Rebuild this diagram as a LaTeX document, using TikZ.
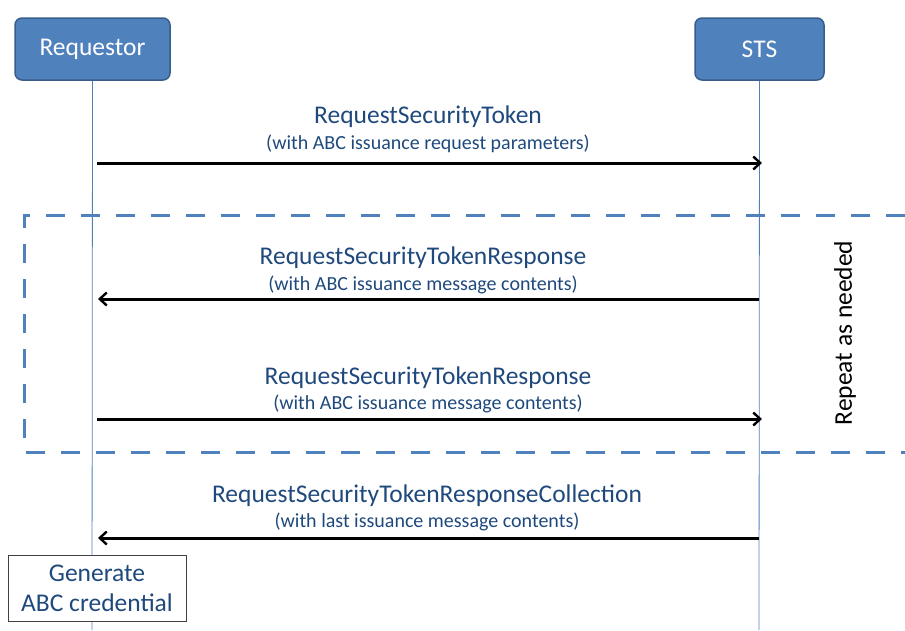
\documentclass[tikz,border=0pt]{standalone}
\usepackage{fontspec}
\setmainfont{Carlito}
\usetikzlibrary{arrows.meta}
\definecolor{boxblue}{HTML}{4F81BD}
\definecolor{boxedge}{HTML}{385D8A}
\definecolor{labelblue}{HTML}{1F497D}
\tikzset{
  actor/.style={shape=rectangle,rounded corners=7pt,fill=boxblue,draw=boxedge,line width=1.5pt,
    text=white,minimum height=62pt,font=\fontsize{25.5}{30}\selectfont},
  lifeline/.style={draw=boxblue,line width=0.8pt},
  msg/.style={draw=black,line width=3pt,-{Straight Barb[length=7pt,width=13pt,line width=2.4pt]}},
  msgname/.style={text=labelblue,font=\fontsize{25.5}{30}\selectfont,inner sep=0pt},
  msgnote/.style={text=labelblue,font=\fontsize{20}{24}\selectfont,inner sep=0pt},
  repeatbox/.style={draw=boxblue,line width=3pt,dash pattern=on 19pt off 16pt},
  taskbox/.style={shape=rectangle,fill=white,draw=black!75,line width=0.8pt,align=center,
    text=labelblue,minimum width=178pt,minimum height=66pt,font=\fontsize{25.5}{30}\selectfont,inner sep=0pt}
}
\begin{document}
\begin{tikzpicture}[x=1pt,y=-1pt]
\useasboundingbox (0,0) rectangle (905,630);

% participants
\node[actor,minimum width=155pt] (req) at (92.5,49) {Requestor};
\node[actor,minimum width=129pt] (sts) at (759.5,49) {STS};
\coordinate (reqend) at (92,630);
\coordinate (stsend) at (759,630);
\path[lifeline] (req.south) -- (reqend);
\path[lifeline] (sts.south) -- (stsend);

% repeat frame
\coordinate (f1) at (905,215);
\coordinate (f2) at (24,215);
\coordinate (f3) at (24,452);
\coordinate (f4) at (905,452);
\path[repeatbox] (f1) -- (f2) -- (f3) -- (f4);
\node[font=\fontsize{25.5}{30}\selectfont,rotate=90] (rep) at (845,333) {Repeat as needed};

% message end points
\coordinate (r1) at (97,163);  \coordinate (s1) at (762,163);
\coordinate (r2) at (98,299);  \coordinate (s2) at (759,299);
\coordinate (r3) at (97,419);  \coordinate (s3) at (762,419);
\coordinate (r4) at (98,538);  \coordinate (s4) at (759,538);

\path[msg] (r1) -- (s1);
\path[msg] (s2) -- (r2);
\path[msg] (r3) -- (s3);
\path[msg] (s4) -- (r4);

% message labels
\node[msgname] (m1) at (428,117) {RequestSecurityToken};
\node[msgnote] (n1) at (428,144) {(with ABC issuance request parameters)};
\node[msgname] (m2) at (423,258) {RequestSecurityTokenResponse};
\node[msgnote] (n2) at (423,285) {(with ABC issuance message contents)};
\node[msgname] (m3) at (428,378) {RequestSecurityTokenResponse};
\node[msgnote] (n3) at (428,404) {(with ABC issuance message contents)};
\node[msgname] (m4) at (427,496) {RequestSecurityTokenResponseCollection};
\node[msgnote] (n4) at (427,522) {(with last issuance message contents)};

% local step
\node[taskbox] (gen) at (97,588) {Generate\\ABC credential};
\end{tikzpicture}
\end{document}
